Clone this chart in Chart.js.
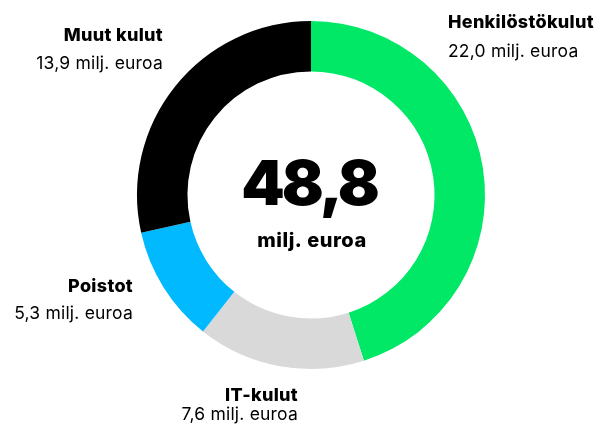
<!DOCTYPE html>
<html>
<head>
<meta charset="utf-8">
<script src="https://cdn.jsdelivr.net/npm/chart.js@4.4.1/dist/chart.umd.min.js"></script>
<style>
  html, body { margin: 0; padding: 0; background: #fff; }
  #wrap { width: 600px; height: 430px; }
</style>
</head>
<body>
<div id="wrap"><canvas id="costPie" width="600" height="430"></canvas></div>
<script>
const categories = ["Henkilöstökulut", "IT-kulut", "Poistot", "Muut kulut"];
const values = [22.0, 7.6, 5.3, 13.9];
const total = 48.8;
const unit = "milj. euroa";
const colors = ["#00e865", "#d9d9d9", "#00b9ff", "#000000"];

const fmt = v => v.toFixed(1).replace(".", ",");

// label spots relative to doughnut centre: [dx, dy of first baseline, align]
const labelSpots = [
  [137, -167, "left"],
  [-13, 206, "right"],
  [-178, 97, "right"],
  [-148, -154, "right"]
];
const lineGaps = [29, 19, 27, 28];

const labelsPlugin = {
  id: "labels",
  afterDraw(chart) {
    const ctx = chart.ctx;
    const arc = chart.getDatasetMeta(0).data[0];
    const cx = arc.x, cy = arc.y;
    ctx.save();
    ctx.fillStyle = "#000";
    ctx.textBaseline = "alphabetic";

    categories.forEach((name, i) => {
      const [dx, dy, align] = labelSpots[i];
      ctx.textAlign = align;
      ctx.letterSpacing = "0.3px";
      ctx.font = "800 18px Inter, 'Noto Sans', sans-serif";
      ctx.fillText(name, cx + dx, cy + dy);
      ctx.letterSpacing = "0.2px";
      ctx.font = "400 17.5px Inter, 'Noto Sans', sans-serif";
      ctx.fillText(fmt(values[i]) + " " + unit, cx + dx, cy + dy + lineGaps[i]);
    });

    ctx.textAlign = "center";
    ctx.letterSpacing = "-3px";
    ctx.font = "900 62px Inter, 'Noto Sans', sans-serif";
    ctx.fillText(fmt(total), cx - 2, cy + 10);
    ctx.letterSpacing = "0.5px";
    ctx.font = "800 20px Inter, 'Noto Sans', sans-serif";
    ctx.fillText(unit, cx + 1, cy + 52);
    ctx.restore();
  }
};

new Chart(document.getElementById("costPie"), {
  type: "doughnut",
  data: {
    labels: categories,
    datasets: [{
      data: values,
      backgroundColor: colors,
      borderWidth: 0
    }]
  },
  options: {
    responsive: false,
    animation: false,
    cutout: "71%",
    layout: { padding: { top: 21, bottom: 61, left: 137, right: 115 } },
    plugins: {
      legend: { display: false },
      tooltip: { enabled: false }
    }
  },
  plugins: [labelsPlugin]
});
</script>
</body>
</html>
